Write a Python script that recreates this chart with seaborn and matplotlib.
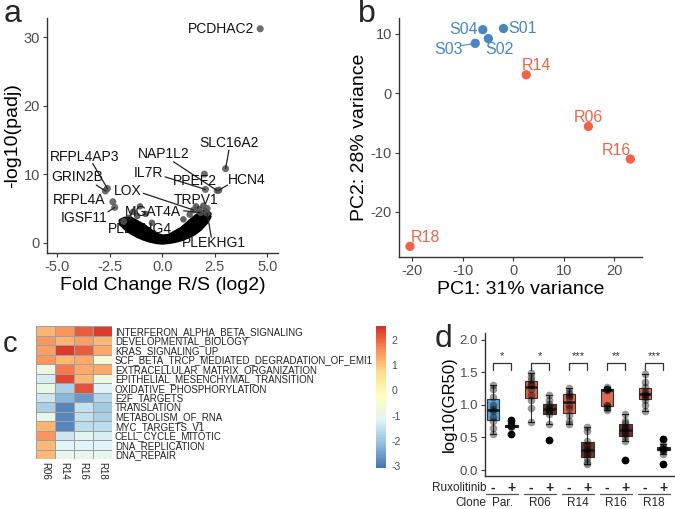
import numpy as np
import pandas as pd
import matplotlib
matplotlib.use("Agg")
import matplotlib.pyplot as plt
from matplotlib.colors import LinearSegmentedColormap
import seaborn as sns

# --- DATA ---
# panel a: volcano (labelled genes)
genes = ["PCDHAC2", "SLC16A2", "NAP1L2", "HCN4", "IL7R", "PPEF2", "TRPV1", "LOX",
         "MGAT4A", "PLEKHG1", "PLEKHG4", "RFPL4AP3", "GRIN2B", "RFPL4A", "IGSF11"]
gene_fc = [4.66, 3.01, 2.61, 2.69, 2.05, 2.0, 2.13, 1.49, 1.81, 2.13, -1.85, -2.62, -2.72, -2.36, -2.27]
gene_p = [31.2, 10.8, 7.6, 7.67, 7.77, 10.0, 5.0, 4.76, 4.4, 4.3, 3.1, 7.9, 7.55, 5.97, 5.15]

# dense cloud of non-labelled genes, read as its envelope
cloud_fc = [-2.0, -1.8, -1.5, -1.2, -0.9, -0.6, -0.3, 0.0, 0.3, 0.6, 0.9, 1.2, 1.5, 1.8, 2.1, 2.25]
cloud_lo = [2.8, 2.2, 1.5, 1.0, 0.6, 0.3, 0.1, 0.0, 0.1, 0.25, 0.5, 0.85, 1.3, 2.0, 3.0, 3.8]
cloud_hi = [3.2, 3.5, 3.5, 3.0, 2.5, 1.8, 1.2, 0.9, 1.0, 1.5, 2.0, 2.8, 3.6, 4.3, 4.6, 4.2]
fringe_fc = [-1.07, -1.4, -1.2, -0.8, 1.6, 1.75, 1.95, 2.05, 1.3, -1.6, 1.0, -0.5]
fringe_p = [5.3, 4.5, 3.9, 4.2, 5.3, 4.9, 5.4, 4.6, 4.1, 3.6, 3.4, 2.9]

# panel b: PCA
pca_samples = ["S01", "S02", "S03", "S04", "R14", "R06", "R16", "R18"]
pc1 = [-1.9, -4.9, -7.5, -6.0, 2.6, 14.9, 23.2, -20.4]
pc2 = [10.9, 9.2, 8.4, 10.7, 3.1, -5.6, -11.1, -25.8]
pca_group = ["S", "S", "S", "S", "R", "R", "R", "R"]

# panel c: pathway heatmap
pathways = ["INTERFERON_ALPHA_BETA_SIGNALING", "DEVELOPMENTAL_BIOLOGY", "KRAS_SIGNALING_UP",
            "SCF_BETA_TRCP_MEDIATED_DEGRADATION_OF_EMI1", "EXTRACELLULAR_MATRIX_ORGANIZATION",
            "EPITHELIAL_MESENCHYMAL_TRANSITION", "OXIDATIVE_PHOSPHORYLATION", "E2F_TARGETS",
            "TRANSLATION", "METABOLISM_OF_RNA", "MYC_TARGETS_V1", "CELL_CYCLE_MITOTIC",
            "DNA_REPLICATION", "DNA_REPAIR"]
heat_clones = ["R06", "R14", "R16", "R18"]
heat_r06 = [1.2, 1.5, 1.4, 1.5, -0.8, -1.3, -0.9, -1.4, -1.8, -0.9, 1.2, 1.5, 1.1, 1.1]
heat_r14 = [1.5, 1.2, 2.4, 1.1, 1.8, 2.3, -1.8, -2.2, -2.8, -2.8, -2.8, -1.4, -1.2, -1.0]
heat_r16 = [2.1, 1.4, 2.1, 1.3, 1.3, 1.2, 2.2, -2.6, -1.5, -1.5, -1.6, -1.1, -1.2, -1.0]
heat_r18 = [2.4, 1.1, 1.3, -0.7, 1.3, -0.8, -1.2, -1.7, -1.9, -1.8, -1.6, -1.3, -1.2, -1.0]

# panel d: log10(GR50) per clone / ruxolitinib
clones_d = ["Par.", "R06", "R14", "R16", "R18"]
gr50_minus = {
    "Par.": [1.31, 1.25, 1.12, 1.0, 0.93, 0.9, 0.82, 0.75, 0.65, 0.55],
    "R06": [1.48, 1.42, 1.38, 1.32, 1.3, 1.25, 1.15, 1.08, 0.95, 0.74],
    "R14": [1.26, 1.2, 1.17, 1.13, 1.1, 1.0, 0.95, 0.85, 0.75, 0.71],
    "R16": [1.27, 1.25, 1.24, 1.24, 1.23, 1.0, 0.98, 0.95, 0.92],
    "R18": [1.47, 1.35, 1.28, 1.2, 1.17, 1.15, 1.12, 1.07, 1.0, 0.9],
}
gr50_plus = {
    "Par.": [0.77, 0.72, 0.69, 0.68, 0.68, 0.67, 0.66, 0.55],
    "R06": [1.15, 1.08, 1.02, 0.95, 0.93, 0.9, 0.86, 0.7, 0.46],
    "R14": [0.66, 0.6, 0.45, 0.39, 0.33, 0.3, 0.25, 0.18, 0.12, 0.09],
    "R16": [0.86, 0.75, 0.72, 0.66, 0.64, 0.6, 0.55, 0.51, 0.45, 0.15],
    "R18": [0.47, 0.4, 0.35, 0.34, 0.33, 0.32, 0.31, 0.3, 0.25, 0.09],
}
signif = ["*", "*", "***", "**", "***"]

# --- STYLE ---
sns.set_theme(style="ticks")
plt.rcParams["font.family"] = ["Liberation Sans", "DejaVu Sans"]
plt.rcParams["axes.unicode_minus"] = False

AXIS_COL = "#333333"
TICK_COL = "#4d4d4d"
BLUE = "#4a87bf"
RED = "#f2644a"


def style_axes(ax, size=10.5):
    sns.despine(ax=ax)
    for s in ["left", "bottom"]:
        ax.spines[s].set_color(AXIS_COL)
        ax.spines[s].set_linewidth(1.0)
    ax.tick_params(length=3, width=0.8, color=AXIS_COL, labelcolor=TICK_COL, labelsize=size, pad=2)


fig = plt.figure(figsize=(6.75, 5.09), dpi=100)

# ---------------- panel a ----------------
ax_a = fig.add_axes([0.0696, 0.503, 0.342, 0.462])
ax_a.fill_between(cloud_fc, cloud_lo, cloud_hi, color="black", lw=0, zorder=3)
ax_a.plot(cloud_fc, cloud_lo, color="black", lw=3, solid_capstyle="round", zorder=3)
ax_a.plot(cloud_fc, cloud_hi, color="black", lw=3, solid_capstyle="round", zorder=3)
sns.scatterplot(x=fringe_fc, y=fringe_p, ax=ax_a, color="#222222", s=22, alpha=0.7,
                edgecolor="none", zorder=3)
sns.scatterplot(x=gene_fc, y=gene_p, ax=ax_a, color="#555555", s=26, alpha=0.85,
                edgecolor="none", zorder=4)

# label placement: (text x, text y, ha, segment start or None)
label_pos = {
    "PCDHAC2": (4.4, 31.2, "right", None),
    "SLC16A2": (3.17, 14.5, "center", (3.17, 13.5)),
    "NAP1L2": (0.05, 12.9, "center", (0.53, 11.8)),
    "HCN4": (4.02, 9.2, "center", (3.1, 8.4)),
    "IL7R": (-0.67, 10.2, "center", (0.13, 9.6)),
    "PPEF2": (1.57, 9.0, "center", None),
    "TRPV1": (1.6, 6.2, "center", None),
    "LOX": (-1.63, 7.57, "center", (-0.91, 7.2)),
    "MGAT4A": (-0.43, 4.5, "center", (1.01, 4.66)),
    "PLEKHG1": (2.45, -0.1, "center", (2.33, 0.8)),
    "PLEKHG4": (-1.07, 1.95, "center", None),
    "RFPL4AP3": (-3.72, 12.5, "center", (-3.32, 11.55)),
    "GRIN2B": (-4.04, 9.6, "center", (-3.15, 8.4)),
    "RFPL4A": (-3.99, 6.2, "center", None),
    "IGSF11": (-3.72, 3.55, "center", (-2.6, 4.5)),
}
for g, fx, py in zip(genes, gene_fc, gene_p):
    lx, ly, ha, seg = label_pos[g]
    if seg is not None:
        ax_a.plot([seg[0], fx], [seg[1], py], color="#222222", lw=0.9, zorder=4)
    ax_a.text(lx, ly, g, ha=ha, va="center", fontsize=10, color="#111111",
              zorder=2 if g == "PLEKHG4" else 5)

ax_a.set_xlim(-5.5, 5.5)
ax_a.set_ylim(-1.5, 32.8)
ax_a.set_xticks([-5, -2.5, 0, 2.5, 5])
ax_a.set_xticklabels(["-5.0", "-2.5", "0.0", "2.5", "5.0"])
ax_a.set_yticks([0, 10, 20, 30])
ax_a.set_xlabel("Fold Change R/S (log2)", fontsize=14, color="black", labelpad=2)
ax_a.set_ylabel("-log10(padj)", fontsize=14, color="black", labelpad=2)
style_axes(ax_a)

# ---------------- panel b ----------------
ax_b = fig.add_axes([0.591, 0.495, 0.36, 0.47])
pca_df = pd.DataFrame({"PC1": pc1, "PC2": pc2, "group": pca_group, "sample": pca_samples})
sns.scatterplot(data=pca_df, x="PC1", y="PC2", hue="group", palette={"S": BLUE, "R": RED},
                s=45, edgecolor="none", legend=False, ax=ax_b, zorder=3)
pca_label_pos = {
    "S01": (1.92, 10.9), "S02": (-2.77, 7.3), "S03": (-12.8, 7.4), "S04": (-9.84, 10.8),
    "R14": (4.55, 4.6), "R06": (14.9, -4.05), "R16": (20.4, -9.6), "R18": (-17.4, -24.3),
}
for smp, x, y, grp in zip(pca_samples, pc1, pc2, pca_group):
    col = BLUE if grp == "S" else RED
    lx, ly = pca_label_pos[smp]
    ax_b.text(lx, ly, smp, ha="center", va="center", fontsize=11.5, color=col)
    if smp == "S03":
        ax_b.plot([-10.3, x], [8.0, y], color=col, lw=0.8)
ax_b.set_xlim(-22.6, 25.5)
ax_b.set_ylim(-27.6, 12.7)
ax_b.set_xticks([-20, -10, 0, 10, 20])
ax_b.set_yticks([-20, -10, 0, 10])
ax_b.set_xlabel("PC1: 31% variance", fontsize=14, color="black", labelpad=2)
ax_b.set_ylabel("PC2: 28% variance", fontsize=14, color="black", labelpad=2)
style_axes(ax_b)

# ---------------- panel c ----------------
ax_c = fig.add_axes([0.0533, 0.0982, 0.1126, 0.2613])
cax = fig.add_axes([0.557, 0.0806, 0.0148, 0.279])
heat_df = pd.DataFrame({"R06": heat_r06, "R14": heat_r14, "R16": heat_r16, "R18": heat_r18},
                       index=pathways)[heat_clones]
rdylbu = ["#4575b4", "#91bfdb", "#e0f3f8", "#ffffbf", "#fee090", "#fc8d59", "#d73027"]
cmap = LinearSegmentedColormap.from_list("ph", rdylbu, N=100)
sns.heatmap(heat_df, ax=ax_c, cmap=cmap, vmin=-3.07, vmax=2.55, linewidths=0.6,
            linecolor="#a0a0a0", cbar_ax=cax, xticklabels=True, yticklabels=True,
            cbar_kws={"ticks": [-3, -2, -1, 0, 1, 2]})
ax_c.yaxis.tick_right()
ax_c.set_yticks(np.arange(len(pathways)) + 0.5)
ax_c.set_yticklabels(pathways, rotation=0, fontsize=7, color="#222222", ha="left")
ax_c.set_xticks(np.arange(len(heat_clones)) + 0.5)
ax_c.set_xticklabels(heat_clones, rotation=270, fontsize=7, color="#222222")
ax_c.tick_params(length=0, pad=2)
ax_c.set_xlabel("")
ax_c.set_ylabel("")
cax.tick_params(length=0, labelsize=7.5, labelcolor=TICK_COL, pad=4)
ax_c.collections[0].colorbar.outline.set_visible(False)

# ---------------- panel d ----------------
ax_d = fig.add_axes([0.7185, 0.0648, 0.2815, 0.281])
OFF = 0.24
rows = []
for gi, cl in enumerate(clones_d):
    for v in gr50_minus[cl]:
        rows.append({"clone": cl, "rux": "-", "pos": gi - OFF, "val": v,
                     "kind": "par-" if cl == "Par." else "r-"})
    for v in gr50_plus[cl]:
        rows.append({"clone": cl, "rux": "+", "pos": gi + OFF, "val": v,
                     "kind": "par+" if cl == "Par." else "r+"})
gr_df = pd.DataFrame(rows)
box_pal = {"par-": "#45a8f0", "par+": "#1c3f66", "r-": "#f45a3a", "r+": "#7e2a1c"}
sns.boxplot(data=gr_df, x="pos", y="val", hue="kind", palette=box_pal, native_scale=True,
            dodge=False, width=0.69, linecolor="#333333", linewidth=0.8, legend=False,
            medianprops={"color": "#1a1a1a", "linewidth": 1.8},
            flierprops={"marker": "o", "markerfacecolor": "black", "markeredgecolor": "black",
                        "markersize": 4.5},
            ax=ax_d)
sns.stripplot(data=gr_df, x="pos", y="val", native_scale=True, jitter=False, color="black",
              alpha=0.4, size=5.5, ax=ax_d, zorder=4)

for gi, star in enumerate(signif):
    ax_d.plot([gi - OFF, gi - OFF, gi + OFF, gi + OFF], [1.53, 1.64, 1.64, 1.53],
              color="#333333", lw=0.9)
    ax_d.text(gi, 1.74, star, ha="center", va="center", fontsize=8, color="#333333")

ax_d.set_xlim(-0.45, 4.55)
ax_d.set_ylim(-0.09, 2.1)
ax_d.set_yticks([0.0, 0.5, 1.0, 1.5, 2.0])
ax_d.set_yticklabels(["0.0", "0.5", "1.0", "1.5", "2.0"])
ax_d.set_xticks([])
ax_d.set_xlabel("")
ax_d.set_ylabel("log10(GR50)", fontsize=12, color="black", labelpad=2)
style_axes(ax_d, size=9.5)
ax_d.tick_params(axis="x", length=0)

trans = ax_d.get_xaxis_transform()
ax_d.text(-0.42, -0.084, "Ruxolitinib", transform=trans, ha="right", va="center",
          fontsize=8.5, clip_on=False)
ax_d.text(-0.42, -0.19, "Clone", transform=trans, ha="right", va="center",
          fontsize=8.5, clip_on=False)
for gi, cl in enumerate(clones_d):
    ax_d.text(gi - OFF, -0.084, "-", transform=trans, ha="center", va="center",
              fontsize=10, fontweight="bold", clip_on=False)
    ax_d.text(gi + OFF, -0.084, "+", transform=trans, ha="center", va="center",
              fontsize=10, fontweight="bold", clip_on=False)
    ax_d.plot([gi - 0.43, gi + 0.43], [-0.126, -0.126], transform=trans, color="#555555",
              lw=0.9, clip_on=False)
    ax_d.text(gi, -0.19, cl, transform=trans, ha="center", va="center",
              fontsize=8.5, clip_on=False)

# panel letters
fig.text(0.006, 0.957, "a", fontsize=23, va="baseline")
fig.text(0.530, 0.957, "b", fontsize=23, va="baseline")
fig.text(0.004, 0.308, "c", fontsize=21, va="baseline")
fig.text(0.644, 0.318, "d", fontsize=23, va="baseline")

fig.savefig("out.png", dpi=100)
